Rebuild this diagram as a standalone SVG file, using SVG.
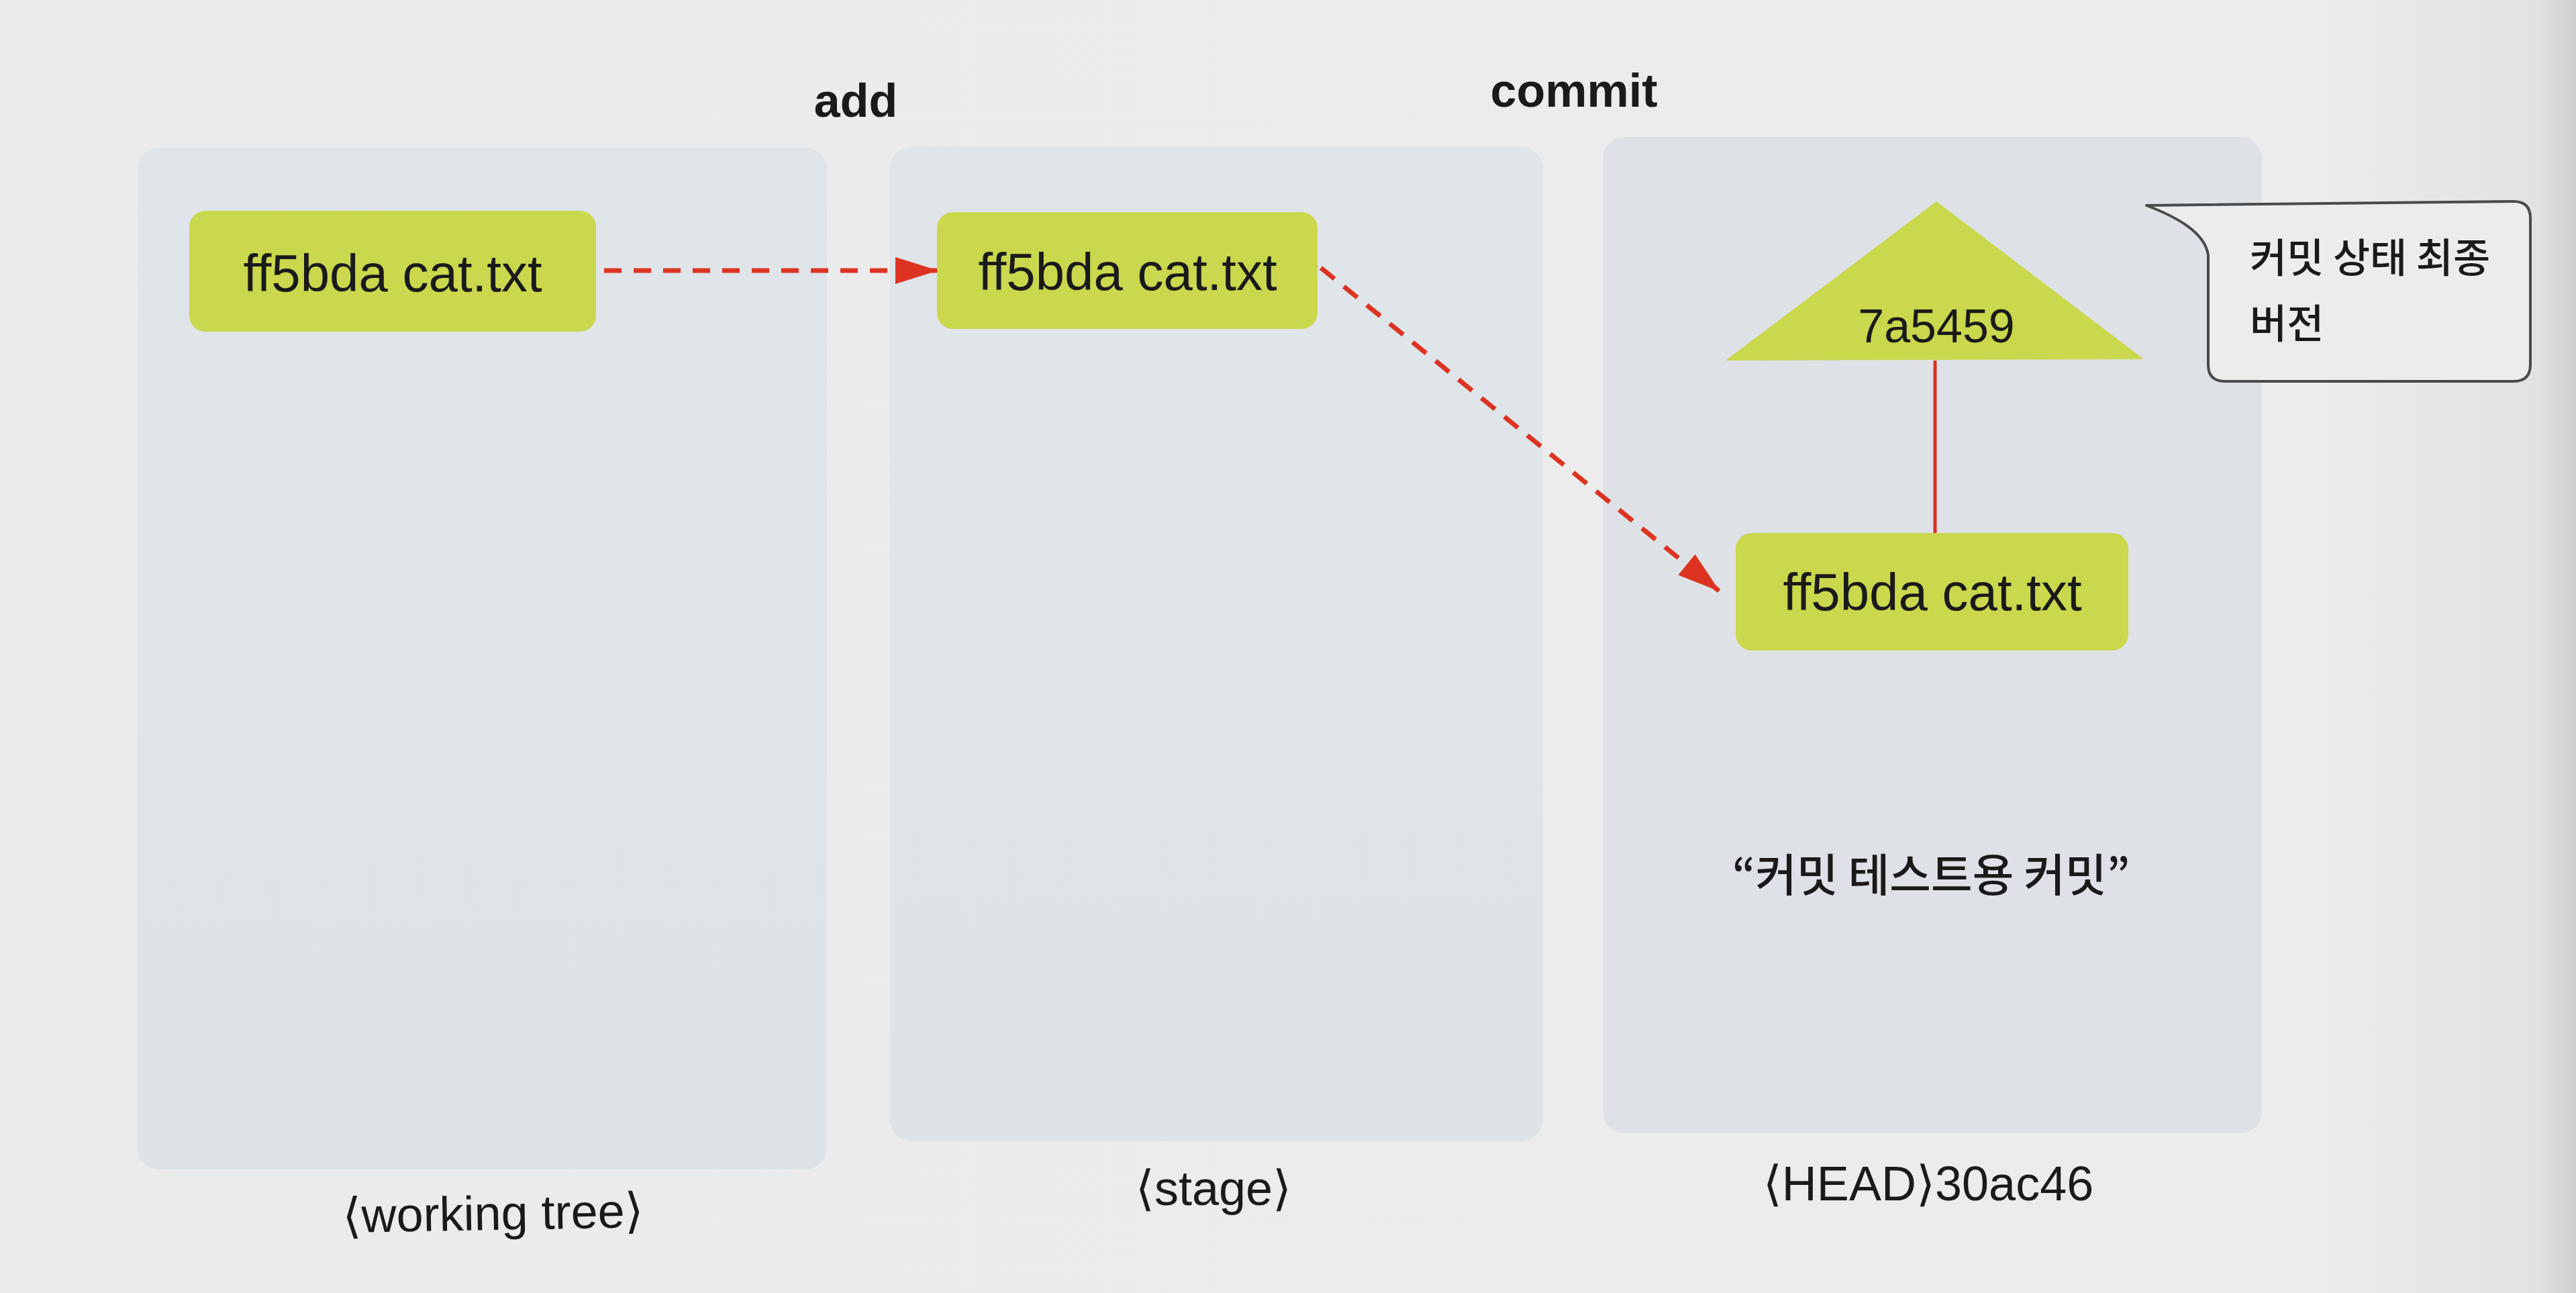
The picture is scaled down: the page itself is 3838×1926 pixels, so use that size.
<svg xmlns="http://www.w3.org/2000/svg" width="3838" height="1926" viewBox="0 0 3838 1926">
  <defs>
    <linearGradient id="bg" x1="0" y1="0" x2="1" y2="0">
      <stop offset="0" stop-color="#ebebeb"/>
      <stop offset="0.9" stop-color="#ececec"/>
      <stop offset="0.985" stop-color="#e2e2e2"/>
      <stop offset="1" stop-color="#cfcfcf"/>
    </linearGradient>
    <linearGradient id="panel" x1="0" y1="0" x2="0" y2="1">
      <stop offset="0" stop-color="#e0e5e9"/>
      <stop offset="1" stop-color="#dde3e7"/>
    </linearGradient>
    <marker id="arrow" markerUnits="userSpaceOnUse" markerWidth="64" markerHeight="40" refX="62" refY="20" orient="auto">
      <path d="M0,0 L64,20 L0,40 Z" fill="#dd3322"/>
    </marker>
    <style>
      .panel { fill: url(#panel); }
      .box { fill: #c9d84c; }
      .lbl { font-family: "Liberation Sans", "DejaVu Sans", "Noto Sans CJK KR", sans-serif; fill: #1a1a1a; text-anchor: middle; }
      .boxtxt { font-size: 78px; }
      .op { font-size: 70px; font-weight: bold; }
      .cap { font-size: 72px; }
      .kr { font-family: "Noto Sans CJK KR", sans-serif; fill: #1a1a1a; font-weight: 500; }
      .dash { fill: none; stroke: #dd3322; stroke-width: 7; stroke-dasharray: 26 18; }
    </style>
  </defs>

  <rect x="0" y="0" width="3838" height="1926" fill="url(#bg)"/>

  <g id="panel-working-tree">
    <rect class="panel" x="205" y="220" width="1027" height="1522" rx="32"/>
  </g>
  <g id="panel-stage">
    <rect class="panel" x="1326" y="218" width="972" height="1482" rx="32"/>
  </g>
  <g id="panel-head">
    <rect class="panel" x="2388" y="204" width="982" height="1484" rx="32" style="fill:#dee2e6"/>
  </g>

  <g id="label-add"><text class="lbl op" x="1275" y="174">add</text></g>
  <g id="label-commit"><text class="lbl op" x="2345" y="159">commit</text></g>

  <g id="node-wt-file">
    <rect class="box" x="282" y="314" width="606" height="180" rx="24"/>
    <text class="lbl boxtxt" x="585" y="434">ff5bda cat.txt</text>
  </g>
  <g id="node-stage-file">
    <rect class="box" x="1396" y="316" width="567" height="174" rx="24"/>
    <text class="lbl boxtxt" x="1680" y="432">ff5bda cat.txt</text>
  </g>
  <g id="node-tree-file">
    <rect class="box" x="2586" y="794" width="585" height="175" rx="24"/>
    <text class="lbl boxtxt" x="2879" y="909">ff5bda cat.txt</text>
  </g>
  <g id="node-commit">
    <polygon class="box" points="2885,300 3194,535 2571,537"/>
    <text class="lbl" x="2885" y="510" style="font-size:70px">7a5459</text>
  </g>

  <g id="connectors">
    <line class="dash" x1="900" y1="403" x2="1396" y2="403" marker-end="url(#arrow)"/>
    <line class="dash" x1="1968" y1="399" x2="2561" y2="880" marker-end="url(#arrow)"/>
    <line x1="2883" y1="537" x2="2883" y2="794" stroke="#dd3322" stroke-width="5"/>
  </g>

  <g id="callout">
    <path d="M3198,306 L3745,300 Q3770,300 3770,325 L3770,543 Q3770,568 3745,568 L3315,568 Q3290,568 3290,543 L3290,380 C3285,345 3240,322 3198,306 Z" fill="#ececec" stroke="#4a4a4a" stroke-width="4" stroke-linejoin="round"/>
    <text class="kr" x="3352" y="406" style="font-size:60px">커밋 상태 최종</text>
    <text class="kr" x="3352" y="504" style="font-size:60px">버전</text>
  </g>

  <g id="commit-message">
    <text class="kr" x="2877" y="1328" text-anchor="middle" style="font-size:67px">“커밋 테스트용 커밋”</text>
  </g>

  <g id="label-working-tree">
    <text class="lbl cap" x="735" y="1832" transform="rotate(-1 735 1832)">⟨working tree⟩</text>
  </g>
  <g id="label-stage">
    <text class="lbl cap" x="1808" y="1795">⟨stage⟩</text>
  </g>
  <g id="label-head">
    <text class="lbl cap" x="2873" y="1788">⟨HEAD⟩30ac46</text>
  </g>
</svg>
